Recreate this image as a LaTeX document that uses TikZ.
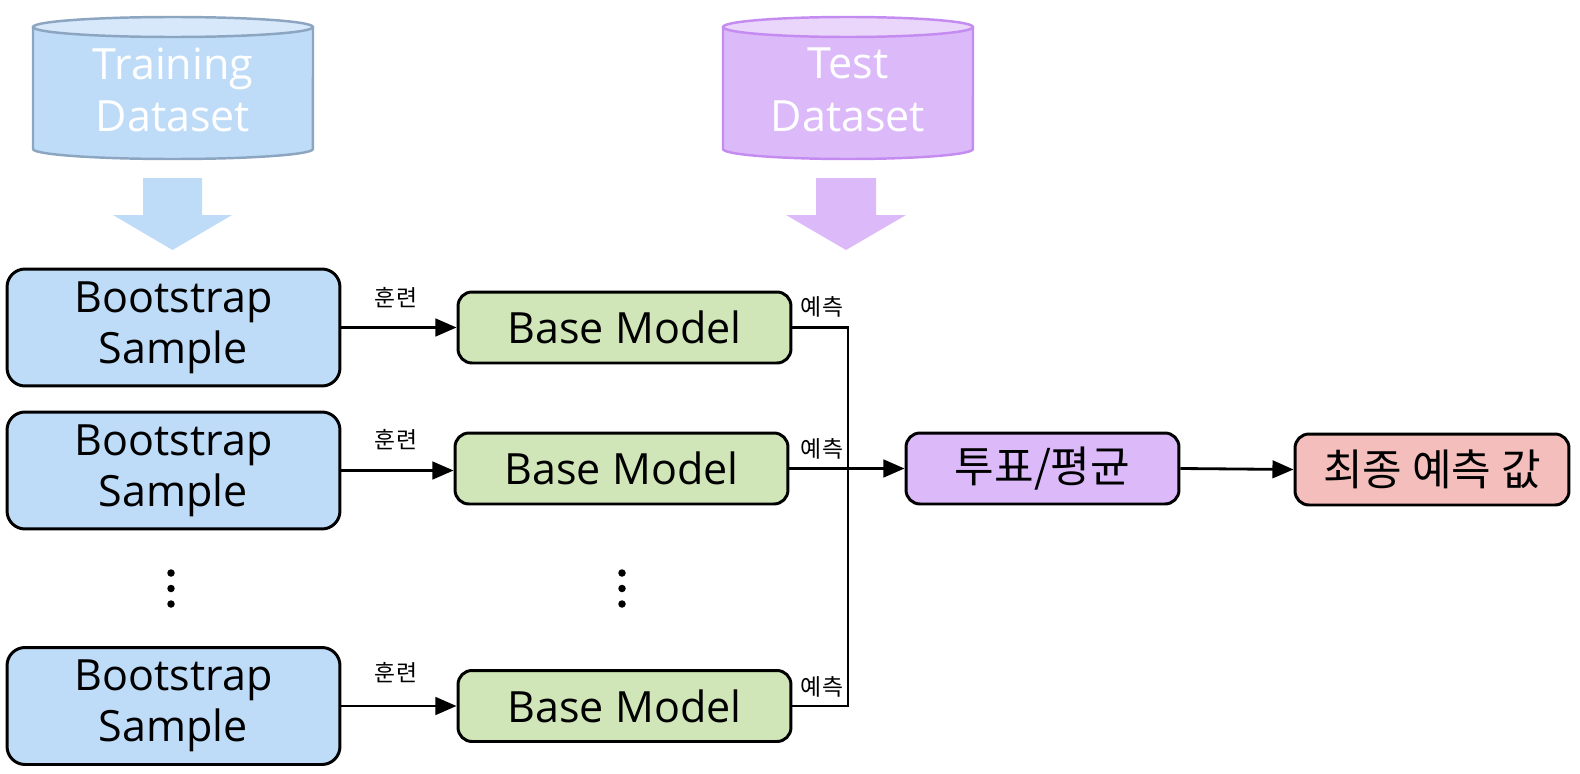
\documentclass[tikz,border=0pt]{standalone}
\usepackage{fontspec}
\setmainfont{Open Sans}
\newfontfamily\kr{Noto Sans CJK KR}
\usetikzlibrary{arrows.meta}
\definecolor{bluefill}{RGB}{190,220,248}
\definecolor{bluetop}{RGB}{214,232,250}
\definecolor{blueborder}{RGB}{140,165,192}
\definecolor{purplefill}{RGB}{220,186,250}
\definecolor{purpletop}{RGB}{234,213,251}
\definecolor{purpleborder}{RGB}{196,140,240}
\definecolor{greenfill}{RGB}{208,230,185}
\definecolor{redfill}{RGB}{244,190,188}
\begin{document}
\begin{tikzpicture}[x=0.02cm,y=-0.02cm,
  box/.style={draw=black,line width=1.7pt,align=center,inner sep=0pt},
  bootbox/.style={box,fill=bluefill,rounded corners=0.36cm,minimum width=6.66cm,minimum height=2.34cm,font=\fontsize{24.5}{29}\selectfont},
  basebox/.style={box,fill=greenfill,rounded corners=0.28cm,minimum width=6.66cm,minimum height=1.42cm,font=\fontsize{24.5}{29}\selectfont},
  krbox/.style={box,rounded corners=0.28cm,minimum height=1.42cm,font=\kr\fontsize{24.5}{28}\selectfont},
  conn/.style={line width=1.6pt},
  arr/.style={conn,-{Triangle[length=12pt,width=10pt]}},
  lbl/.style={font=\kr\fontsize{13}{15}\selectfont,inner sep=0pt},
  dbtext/.style={text=white,align=center,font=\fontsize{24.5}{30}\selectfont}
]
\useasboundingbox (0,0) rectangle (1580,774);
% Training dataset cylinder
\fill[bluefill] (33,27) -- (33,149) arc[start angle=180,end angle=360,x radius=2.8cm,y radius=0.2cm] -- (313,27) -- cycle;
\draw[blueborder,line width=1.4pt] (33,27) -- (33,149) arc[start angle=180,end angle=360,x radius=2.8cm,y radius=0.2cm] -- (313,27);
\draw[blueborder,fill=bluetop,line width=1.4pt] (173,27) ellipse[x radius=2.8cm,y radius=0.2cm];
\node[dbtext] (train) at (173,90) {Training\\Dataset};
% Test dataset cylinder
\fill[purplefill] (723,27) -- (723,149) arc[start angle=180,end angle=360,x radius=2.5cm,y radius=0.2cm] -- (973,27) -- cycle;
\draw[purpleborder,line width=1.4pt] (723,27) -- (723,149) arc[start angle=180,end angle=360,x radius=2.5cm,y radius=0.2cm] -- (973,27);
\draw[purpleborder,fill=purpletop,line width=1.4pt] (848,27) ellipse[x radius=2.5cm,y radius=0.2cm];
\node[dbtext] (test) at (848,90) {Test\\Dataset};
% block arrows
\fill[bluefill] (143,178) -- (202,178) -- (202,215) -- (232,215) -- (172.5,250) -- (113,215) -- (143,215) -- cycle;
\fill[purplefill] (816,178) -- (876,178) -- (876,215) -- (906,215) -- (846,250) -- (786,215) -- (816,215) -- cycle;
% bootstrap samples
\node[bootbox] (s1) at (173.5,327.5) {Bootstrap\\Sample};
\node[bootbox] (s2) at (173.5,470.5) {Bootstrap\\Sample};
\node[bootbox] (s3) at (173.5,706) {Bootstrap\\Sample};
% base models
\node[basebox] (m1) at (624.5,327.5) {Base Model};
\node[basebox] (m2) at (621.5,468.5) {Base Model};
\node[basebox] (m3) at (624.5,706) {Base Model};
% vote and final
\node[krbox,fill=purplefill,minimum width=5.46cm] (vote) at (1042.5,468.5) {투표/평균};
\node[krbox,fill=redfill,minimum width=5.48cm] (final) at (1432,469.5) {최종 예측 값};
% dots
\foreach \yy in {573,588.5,604}{
  \fill (171,\yy) circle[radius=0.075cm];
  \fill (622,\yy) circle[radius=0.075cm];
}
% training arrows
\draw[arr] (s1.east) -- (m1.west);
\draw[arr] (s2.east) -- (s2.east -| m2.west);
\draw[arr] (s3.east) -- (m3.west);
\node[lbl] (t1) at (396,298) {훈련};
\node[lbl] (t2) at (396,440) {훈련};
\node[lbl] (t3) at (396,673) {훈련};
% prediction connectors
\coordinate (j) at (848,468.5);
\draw[conn] (m1.east) -| (j) |- (m3.east);
\draw[arr] (m2.east) -- (vote.west);
\draw[arr] (vote.east) -- (final.west);
\node[lbl] (p1) at (822,307) {예측};
\node[lbl] (p2) at (822,449) {예측};
\node[lbl] (p3) at (822,687) {예측};
\end{tikzpicture}
\end{document}
